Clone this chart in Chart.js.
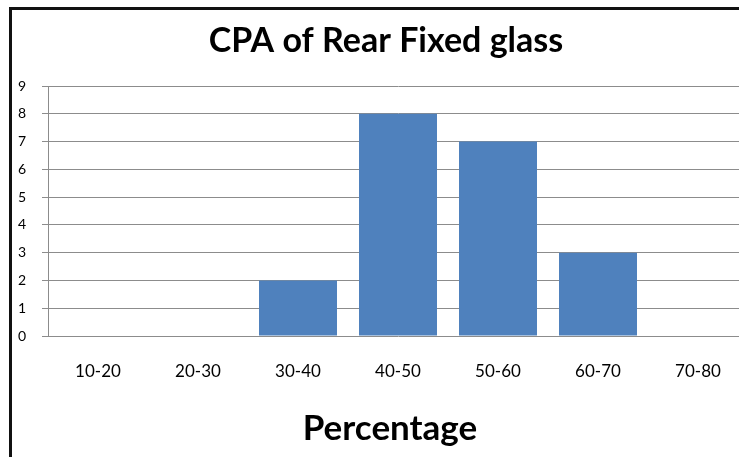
<!DOCTYPE html>
<html>
<head>
<meta charset="utf-8">
<script src="https://cdn.jsdelivr.net/npm/chart.js@4/dist/chart.umd.min.js"></script>
<style>
  html, body { margin: 0; padding: 0; background: #fff; overflow: hidden; width: 739px; height: 457px; }
  #frame { position: absolute; left: 9px; top: 7px; width: 900px; height: 600px;
           border-left: 3px solid #111; border-top: 3px solid #111; }
  #c { position: absolute; left: 0; top: 0; }
</style>
</head>
<body>
<div id="frame"></div>
<canvas id="c" width="760" height="457"></canvas>
<script>
const chartTitle = "CPA of Rear Fixed glass";
const axisTitle = "Percentage";
const categories = ["10-20", "20-30", "30-40", "40-50", "50-60", "60-70", "70-80"];
const counts = [0, 0, 2, 8, 7, 3, 0];
const yTicks = [0, 1, 2, 3, 4, 5, 6, 7, 8, 9];

const FONT = "Lato, 'Open Sans', sans-serif";
const GRID = '#8c8c8c';

// Draws the chart title and the category-axis title as canvas text,
// placed relative to the chart area computed by Chart.js.
const titlesPlugin = {
  id: 'titles',
  afterDraw(chart) {
    const { ctx, chartArea } = chart;
    const cx = (chartArea.left + chartArea.right) / 2;
    ctx.save();
    ctx.fillStyle = '#000';
    ctx.textAlign = 'center';
    ctx.textBaseline = 'alphabetic';
    ctx.font = "bold 34px " + FONT;
    ctx.fillText(chartTitle, cx - 12, chartArea.top - 34);
    ctx.font = "bold 35px " + FONT;
    ctx.fillText(axisTitle, cx - 8, chartArea.bottom + 104);
    ctx.restore();
  }
};

new Chart(document.getElementById('c'), {
  type: 'bar',
  data: {
    labels: categories,
    datasets: [{
      data: counts,
      backgroundColor: '#4F81BD',
      borderWidth: 0,
      barPercentage: 0.78,
      categoryPercentage: 1.0
    }]
  },
  plugins: [titlesPlugin],
  options: {
    responsive: false,
    animation: false,
    layout: { padding: { left: 0, right: 12, top: 86, bottom: 0 } },
    plugins: {
      legend: { display: false },
      tooltip: { enabled: false },
      title: { display: false }
    },
    scales: {
      x: {
        grid: { display: false, drawTicks: false },
        border: { display: false },
        ticks: { color: '#000', padding: 25, font: { family: FONT, size: 17 }, maxRotation: 0 },
        afterFit: (s) => { s.height = 121; }
      },
      y: {
        min: 0,
        max: 9,
        afterBuildTicks: (s) => { s.ticks = yTicks.map(v => ({ value: v })); },
        grid: { color: GRID, lineWidth: 1, drawTicks: true, tickLength: 6, tickColor: GRID },
        border: { display: true, color: GRID, width: 1 },
        ticks: { color: '#000', padding: 16, font: { family: FONT, size: 14 } },
        afterFit: (s) => { s.width = 48; }
      }
    }
  }
});
</script>
</body>
</html>
